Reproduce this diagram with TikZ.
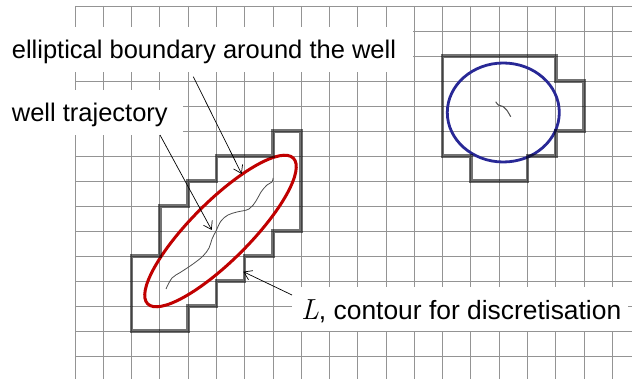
\documentclass[tikz,border=0pt]{standalone}
\usepackage{fontspec}
\newfontfamily\arialf{Liberation Sans}
\usetikzlibrary{arrows.meta}
\definecolor{gridc}{gray}{0.58}
\definecolor{ellred}{RGB}{192,0,0}
\definecolor{ellblue}{RGB}{40,40,150}
\definecolor{trajc}{gray}{0.3}
\begin{document}
\begin{tikzpicture}[x=1pt,y=-1pt,
  gridline/.style={draw=gridc,line width=0.9pt},
  contour/.style={draw=black,draw opacity=0.55,line width=3.6pt,line join=miter},
  whitebox/.style={fill=white,draw=none,inner sep=0pt,anchor=north west},
  labeltext/.style={font=\arialf\fontsize{25.5}{30}\selectfont,inner sep=0pt,anchor=base west},
  pointer/.style={draw=black,line width=0.7pt,-{Straight Barb[length=7.5pt,width=10pt]}},
  traj/.style={draw=trajc,line width=0.8pt}]
\useasboundingbox (0,0) rectangle (632,379);
% grid
\begin{scope}
  \clip (0,0) rectangle (632,379);
  \begin{scope}[shift={(75,6)},x=28.28pt,y=-25pt]
    \foreach \k in {0,...,19} \draw[gridline] (\k,0) -- (\k,15);
    \foreach \j in {0,...,14} \draw[gridline] (0,\j) -- (20,\j);
  \end{scope}
\end{scope}
% label boxes
\node[whitebox,minimum width=413pt,minimum height=45pt] (box1) at (0,27) {};
\node[whitebox,minimum width=183pt,minimum height=45pt] (box2) at (0,90) {};
\node[whitebox,minimum width=336pt,minimum height=44pt] (box3) at (292,287) {};
% ellipses
\draw[ellred,line width=3pt,rotate around={45:(220.5,231)}] (220.5,231) ellipse [x radius=103, y radius=29.5];
\draw[ellblue,line width=2.8pt] (503.3,112.5) ellipse [x radius=56, y radius=49.5];
% contours
\begin{scope}[shift={(75,6)},x=28.28pt,y=-25pt]
  \draw[contour] (7,5) -- (8,5) -- (8,9) -- (7,9) -- (7,10) -- (6,10) -- (6,11)
    -- (5,11) -- (5,12) -- (4,12) -- (4,13) -- (2,13) -- (2,10) -- (3,10)
    -- (3,8) -- (4,8) -- (4,7) -- (5,7) -- (5,6) -- (7,6) -- cycle;
  \draw[contour] (13,2) -- (17,2) -- (17,3) -- (18,3) -- (18,5) -- (17,5)
    -- (17,6) -- (16,6) -- (16,7) -- (14,7) -- (14,6) -- (13,6) -- cycle;
\end{scope}
% well trajectories
\draw[traj] plot[smooth,tension=0.6] coordinates {(166,289) (172,278) (181,272) (193,264) (203,256) (209,248) (212,239) (216,231) (221,221) (228,215) (237,212) (249,209) (256,201) (261,192) (267,185) (272,182) (273,178)};
\draw[traj,line width=1pt] plot[smooth,tension=0.6] coordinates {(495.7,101.7) (498.3,105) (503.3,106.7) (506.7,110) (510.7,116.7)};
% labels
\node[labeltext] (lab1) at (11.7,58.3) {elliptical boundary around the well};
\node[labeltext] (lab2) at (11.7,121.7) {well trajectory};
\node[labeltext,font=\arialf\fontsize{26.4}{30}\selectfont] (lab3) at (301,320) {{\rmfamily\itshape\fontsize{29}{30}\selectfont L}, contour for discretisation};
% pointers
\coordinate (p1s) at (193.3,76.7);
\coordinate (p1e) at (241.7,174);
\coordinate (p2s) at (160,135);
\coordinate (p2e) at (211.7,230);
\coordinate (p3s) at (292,295);
\coordinate (p3e) at (243.3,271.7);
\draw[pointer] (p1s) -- (p1e);
\draw[pointer] (p2s) -- (p2e);
\draw[pointer] (p3s) -- (p3e);
\end{tikzpicture}
\end{document}
